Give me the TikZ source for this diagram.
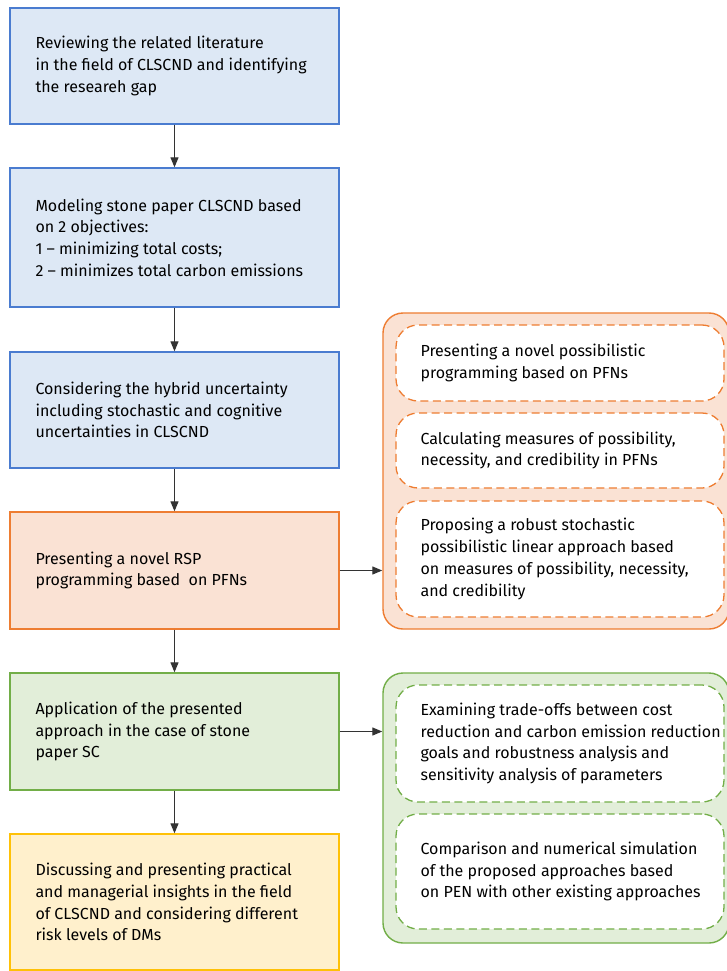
\documentclass[tikz,border=0pt]{standalone}
\usepackage{fontspec}
\setmainfont{Fira Sans}
\usetikzlibrary{arrows.meta}
\definecolor{bluefill}{HTML}{DDE8F5}
\definecolor{blueline}{HTML}{4A7CD0}
\definecolor{orfill}{HTML}{FAE2D4}
\definecolor{orline}{HTML}{EE7D32}
\definecolor{grfill}{HTML}{E2EED9}
\definecolor{grline}{HTML}{72AE48}
\definecolor{yefill}{HTML}{FFF0CC}
\definecolor{yeline}{HTML}{FFC107}
\definecolor{arr}{HTML}{333333}
\tikzset{
  box/.style={rectangle, line width=1.4pt, minimum width=329pt, inner sep=0pt},
  bluebox/.style={box, draw=blueline, fill=bluefill},
  orbox/.style={box, draw=orline, fill=orfill},
  grbox/.style={box, draw=grline, fill=grfill},
  yebox/.style={box, draw=yeline, fill=yefill},
  outer/.style={rectangle, rounded corners=20pt, line width=1.4pt, minimum width=346pt, inner sep=0pt},
  inner/.style={rectangle, rounded corners=22pt, line width=1.3pt, dash pattern=on 8pt off 4.5pt, fill=white, minimum width=328pt, inner sep=0pt},
  txt/.style={anchor=west, align=left, inner sep=0pt, text=black, font=\fontsize{16}{21.7}\selectfont},
  conn/.style={draw=arr, line width=1.2pt, -{Triangle[length=10pt,width=8pt]}}
}
\begin{document}
\begin{tikzpicture}[x=1pt,y=-1pt]
\useasboundingbox (0,0) rectangle (726,971);
\fill[white] (0,0) rectangle (726,971);
% left column
\node[bluebox, minimum height=116pt] (b1) at (174.5,66) {};
\node[bluebox, minimum height=139pt] (b2) at (174.5,237.5) {};
\node[bluebox, minimum height=116pt] (b3) at (174.5,410) {};
\node[orbox, minimum height=117pt] (b4) at (174.5,570.5) {};
\node[grbox, minimum height=117pt] (b5) at (174.5,731.5) {};
\node[yebox, minimum height=136pt] (b6) at (174.5,902) {};
\node[txt] (t1) at ([xshift=26pt]b1.west) {Reviewing the related literature\\in the field of CLSCND and identifying\\the researeh gap};
\node[txt] (t2) at ([xshift=26pt]b2.west) {Modeling stone paper CLSCND based\\on 2 objectives:\\1 -- minimizing total costs;\\2 -- minimizes total carbon emissions};
\node[txt] (t3) at ([xshift=26pt]b3.west) {Considering the hybrid uncertainty\\including stochastic and cognitive\\uncertainties in CLSCND};
\node[txt] (t4) at ([xshift=26pt]b4.west) {Presenting a novel RSP\\programming based\ \ on PFNs};
\node[txt] (t5) at ([xshift=26pt]b5.west) {Application of the presented\\approach in the case of stone\\paper SC};
\node[txt] (t6) at ([xshift=26pt]b6.west) {Discussing and presenting practical\\and managerial insights in the field\\of CLSCND and considering different\\risk levels of DMs};
% orange group
\node[outer, draw=orline, fill=orfill, minimum height=316pt] (og) at (556,471) {};
\node[inner, draw=orline, minimum height=76pt] (o1) at (560,363) {};
\node[inner, draw=orline, minimum height=75pt] (o2) at (560,450.5) {};
\node[inner, draw=orline, minimum height=116pt] (o3) at (560,559) {};
\node[txt] (to1) at ([xshift=25pt]o1.west) {Presenting a novel possibilistic\\programming based on PFNs};
\node[txt] (to2) at ([xshift=25pt]o2.west) {Calculating measures of possibility,\\necessity, and credibility in PFNs};
\node[txt] (to3) at ([xshift=25pt]o3.west) {Proposing a robust stochastic\\possibilistic linear approach based\\on measures of possibility, necessity,\\and credibility};
% green group
\node[outer, draw=grline, fill=grfill, minimum height=270pt] (gg) at (556,808) {};
\node[inner, draw=grline, minimum height=117pt] (g1) at (560,743.5) {};
\node[inner, draw=grline, minimum height=115pt] (g2) at (560,871.5) {};
\node[txt] (tg1) at ([xshift=25pt]g1.west) {Examining trade-offs between cost\\reduction and carbon emission reduction\\goals and robustness analysis and\\sensitivity analysis of parameters};
\node[txt] (tg2) at ([xshift=25pt]g2.west) {Comparison and numerical simulation\\of the proposed approaches based\\on PEN with other existing approaches};
% connectors
\draw[conn] (b1) -- (b2);
\draw[conn] (b2) -- (b3);
\draw[conn] (b3) -- (b4);
\draw[conn] (b4) -- (b5);
\draw[conn] (b5) -- (b6);
\draw[conn] (b4.east) -- (b4.east -| og.west);
\draw[conn] (b5.east) -- (b5.east -| gg.west);
\end{tikzpicture}
\end{document}
